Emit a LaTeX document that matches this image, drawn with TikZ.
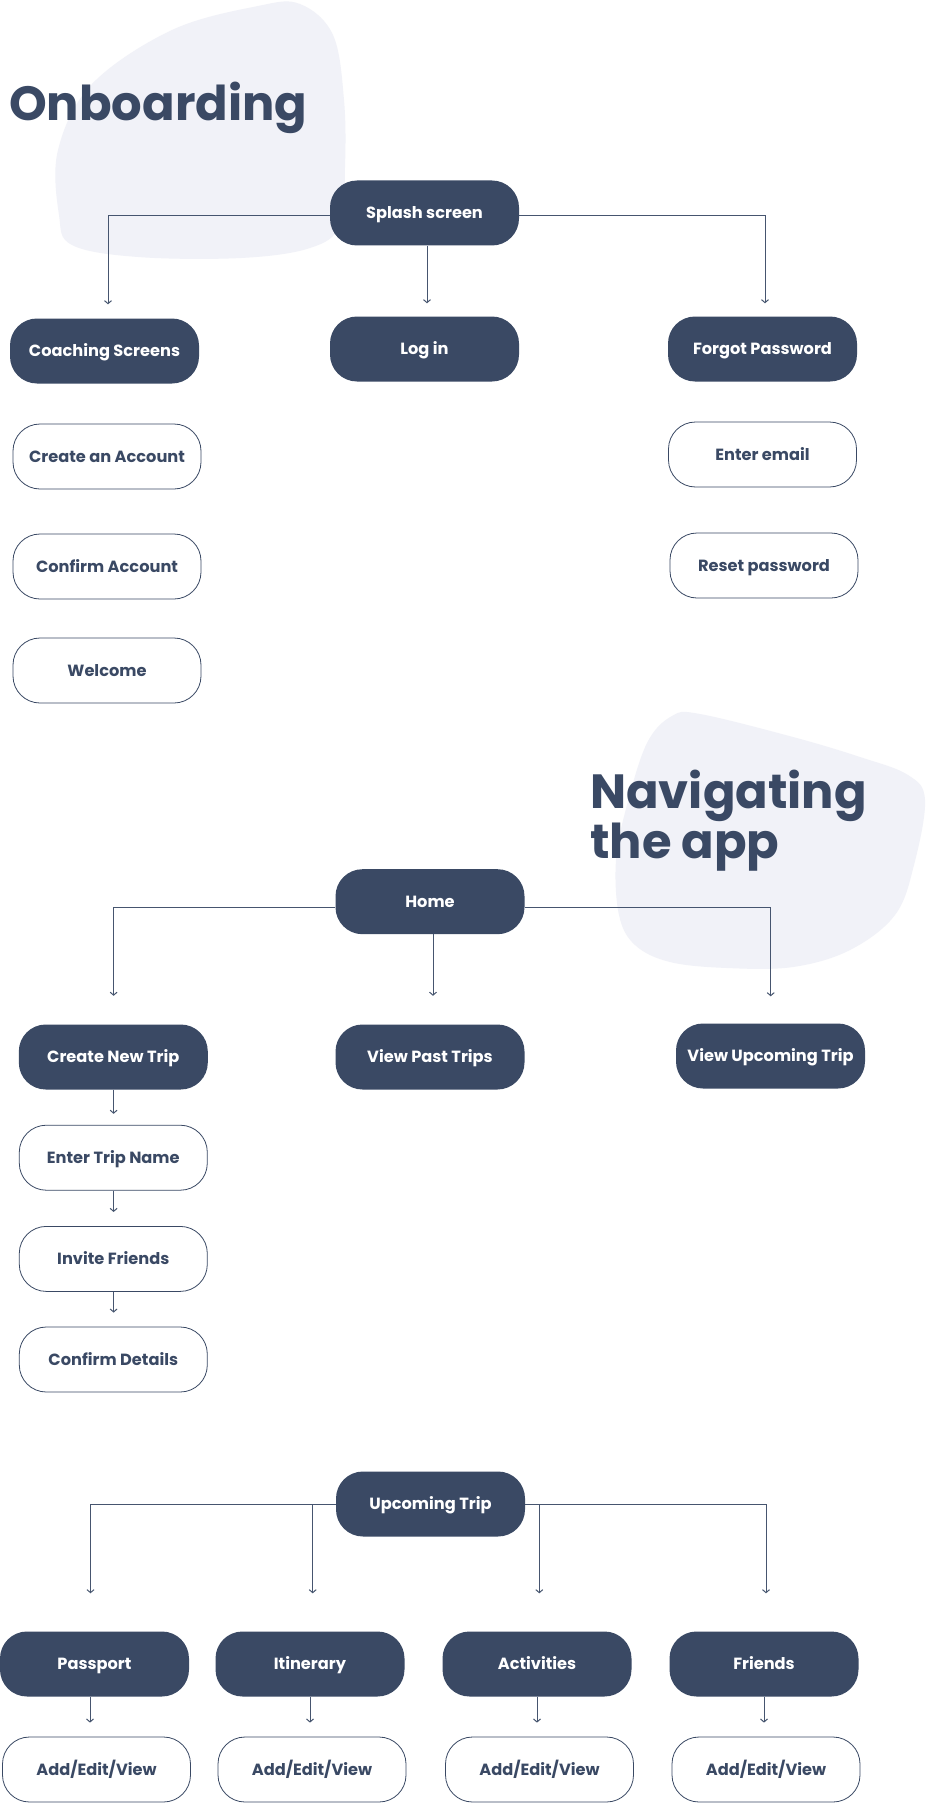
\documentclass[tikz,border=0pt]{standalone}
\usepackage{fontspec}
\setmainfont{Poppins}
\usetikzlibrary{arrows.meta,calc}
\definecolor{navy}{HTML}{3A4964}
\definecolor{blobc}{HTML}{F1F2F8}
\definecolor{linec}{HTML}{46556F}
\begin{document}
\begin{tikzpicture}[x=1pt,y=-1pt,
  filled/.style={draw=none, fill=navy, text=white, rounded corners=27pt,
    minimum width=189pt, minimum height=65pt, inner sep=0pt,
    text height=11.4pt, text depth=0pt,
    font=\fontsize{16.2}{20}\selectfont\bfseries},
  outlined/.style={draw=navy, line width=0.8pt, fill=white, text=navy, rounded corners=27pt,
    minimum width=188pt, minimum height=65pt, inner sep=0pt,
    text height=11.4pt, text depth=0pt,
    font=\fontsize{16.2}{20}\selectfont\bfseries},
  conn/.style={draw=linec, line width=1pt, -{Straight Barb[length=3pt,width=7pt]}},
  title/.style={text=navy, font=\fontsize{48}{50}\selectfont\bfseries, inner sep=0pt, anchor=base west},
  blob/.style={fill=blobc, draw=none}]
\useasboundingbox (0,0) rectangle (933,1803);
\fill[white] (0,0) rectangle (933,1803);

% background blobs
\path[blob] plot[smooth cycle, tension=0.6] coordinates {
  (58,150) (92,84) (172,30) (258,6) (300,4) (333,35) (344,100) (345,167)
  (340,225) (310,248) (241,258) (138,257) (72,245) (59,215)};
\path[blob] plot[smooth cycle, tension=0.6] coordinates {
  (647,743) (672,716) (700,714) (793,737) (860,757) (908,775) (925,800)
  (914,865) (895,915) (850,950) (793,967) (727,968) (670,962) (635,945)
  (619,915) (616,860) (627,805)};

% titles
\node[title] (t1) at (9,121) {Onboarding};
\node[title] (t2a) at (590,808) {Navigating};
\node[title] (t2b) at (590,858) {the app};

% Onboarding nodes
\node[filled] (splash) at (424.5,213) {Splash screen};
\node[filled] (coach) at (104.5,351) {Coaching Screens};
\node[filled] (login) at (424.5,349) {Log in};
\node[filled] (forgot) at (762.5,349) {Forgot Password};
\node[outlined] (create) at (107,456.5) {Create an Account};
\node[outlined] (confirm) at (107,566.5) {Confirm Account};
\node[outlined] (welcome) at (107,670.5) {Welcome};
\node[outlined] (email) at (762.5,454.5) {Enter email};
\node[outlined] (reset) at (764,565.5) {Reset password};

\coordinate (a1) at ($(coach.north)+(3.5,-14)$);
\coordinate (a2) at ($(login.north)+(2.5,-13)$);
\coordinate (a3) at ($(forgot.north)+(2.5,-13)$);
\draw[conn] ([yshift=-3pt]splash.west) -| (a1);
\draw[conn] (splash.south -| a2) -- (a2);
\draw[conn] ([yshift=-3pt]splash.east) -| (a3);

% Navigating nodes
\node[filled] (home) at (430,901.7) {Home};
\node[filled] (cnt) at (113.3,1057) {Create New Trip};
\node[filled] (vpt) at (430,1057) {View Past Trips};
\node[filled] (vut) at (770.5,1056) {View Upcoming Trip};
\node[outlined] (etn) at (113.3,1157.7) {Enter Trip Name};
\node[outlined] (inv) at (113.3,1258.9) {Invite Friends};
\node[outlined] (cd) at (113.3,1359.5) {Confirm Details};

\coordinate (h1) at ($(cnt.north)+(0.3,-28.5)$);
\coordinate (h2) at ($(vpt.north)+(3,-28.5)$);
\coordinate (h3) at ($(vut.north)+(0.2,-27)$);
\draw[conn] ([yshift=-6pt]home.west) -| (h1);
\draw[conn] (home.south -| h2) -- (h2);
\draw[conn] ([yshift=-6pt]home.east) -| (h3);

\coordinate (e1) at ($(etn.north)+(0.3,-11)$);
\coordinate (e2) at ($(inv.north)+(0.3,-14)$);
\coordinate (e3) at ($(cd.north)+(0.3,-14)$);
\draw[conn] (cnt.south -| e1) -- (e1);
\draw[conn] (etn.south -| e2) -- (e2);
\draw[conn] (inv.south -| e3) -- (e3);

% Upcoming trip
\node[filled] (ut) at (430.5,1504) {Upcoming Trip};
\node[filled] (pp) at (94.5,1664) {Passport};
\node[filled] (it) at (310,1664) {Itinerary};
\node[filled] (ac) at (537,1664) {Activities};
\node[filled] (fr) at (764,1664) {Friends};
\node[outlined] (ae1) at (96.5,1769.5) {Add/Edit/View};
\node[outlined] (ae2) at (312,1769.5) {Add/Edit/View};
\node[outlined] (ae3) at (539.5,1769.5) {Add/Edit/View};
\node[outlined] (ae4) at (766,1769.5) {Add/Edit/View};

\coordinate (b1) at ($(pp.north)+(-4,-38)$);
\coordinate (b2) at ($(it.north)+(2.7,-38)$);
\coordinate (b3) at ($(ac.north)+(2.3,-38)$);
\coordinate (b4) at ($(fr.north)+(2,-38)$);
\draw[conn] (ut.west) -| (b1);
\draw[conn] (ut.west -| b2) -- (b2);
\draw[conn] (ut.east) -| (b4);
\draw[conn] (ut.east -| b3) -- (b3);

\coordinate (c1) at ($(ae1.north)+(-6.5,-14)$);
\coordinate (c2) at ($(ae2.north)+(-2,-14)$);
\coordinate (c3) at ($(ae3.north)+(-2.5,-14)$);
\coordinate (c4) at ($(ae4.north)+(-2,-14)$);
\draw[conn] (pp.south -| c1) -- (c1);
\draw[conn] (it.south -| c2) -- (c2);
\draw[conn] (ac.south -| c3) -- (c3);
\draw[conn] (fr.south -| c4) -- (c4);
\end{tikzpicture}
\end{document}
